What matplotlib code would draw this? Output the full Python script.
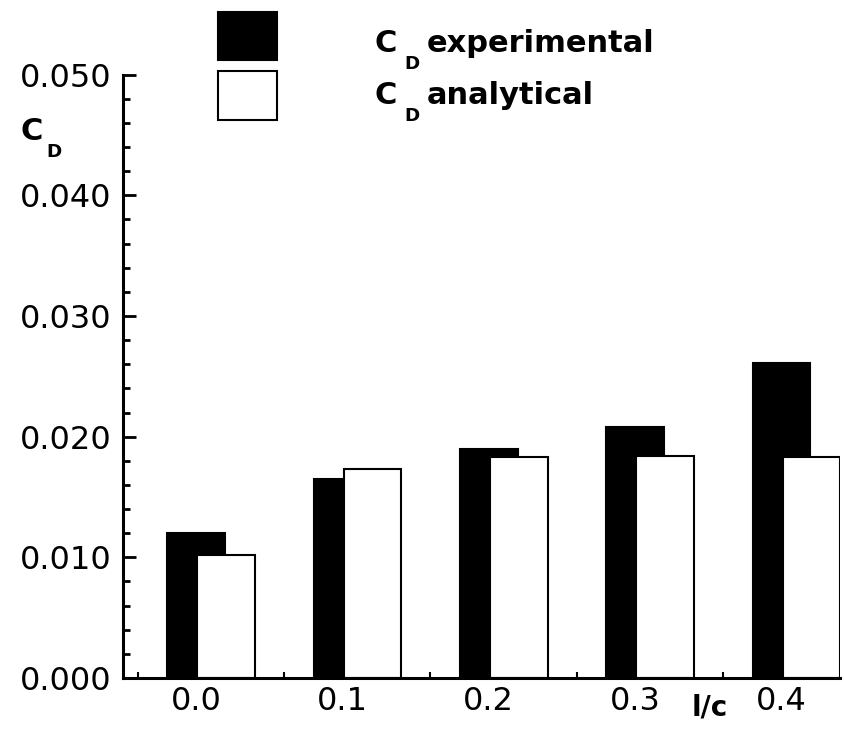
import numpy as np
import matplotlib
matplotlib.use("Agg")
import matplotlib.pyplot as plt
from matplotlib.patches import Rectangle
from matplotlib.ticker import MultipleLocator, FixedLocator

plt.rcParams["font.family"] = ["DejaVu Sans"]

# data
lc_labels = ["0.0", "0.1", "0.2", "0.3", "0.4"]
cd_experimental = [0.0120, 0.0165, 0.0190, 0.0208, 0.0261]
cd_analytical = [0.0102, 0.0173, 0.0183, 0.0184, 0.0183]

x = np.arange(len(lc_labels))
bar_w = 0.395
offset = 0.205

W, H = 844, 732


def cd_label(fig, px, py, rest=None, size=22, d_dx=29, rest_dx=52):
    """C with a dropped subscript D, optionally followed by words (pixel coords, top-left origin)."""
    fig.text(px / W, 1 - py / H, "C", fontsize=size, fontweight="bold", ha="left", va="baseline")
    fig.text((px + d_dx) / W, 1 - (py + 17) / H, "D", fontsize=size * 0.6, fontweight="bold",
             ha="left", va="baseline")
    if rest:
        fig.text((px + rest_dx) / W, 1 - py / H, rest, fontsize=size, fontweight="bold",
                 ha="left", va="baseline")


fig = plt.figure(figsize=(W / 100, H / 100), dpi=100)
ax = fig.add_axes([0.1457, 0.0738, 0.8496, 0.8242])

# black bars first, white ones drawn over them
ax.bar(x, cd_experimental, width=bar_w, color="black", edgecolor="black", linewidth=1.5, zorder=2)
ax.bar(x + offset, cd_analytical, width=bar_w, color="white", edgecolor="black", linewidth=1.5, zorder=3)

ax.set_xlim(-0.5, 4.4)
ax.set_ylim(0, 0.050)

for side in ["top", "right"]:
    ax.spines[side].set_visible(False)
for side in ["left", "bottom"]:
    ax.spines[side].set_linewidth(2.2)
    ax.spines[side].set_zorder(4)

ax.yaxis.set_major_locator(MultipleLocator(0.010))
ax.yaxis.set_minor_locator(MultipleLocator(0.002))
ax.yaxis.set_major_formatter(plt.FormatStrFormatter("%.3f"))
ax.tick_params(axis="y", which="major", direction="in", length=9, width=2, labelsize=23, pad=8)
ax.tick_params(axis="y", which="minor", direction="in", length=5, width=2)

ax.set_xticks(x)
ax.set_xticklabels(lc_labels)
ax.xaxis.set_minor_locator(FixedLocator(x - 0.4))
ax.tick_params(axis="x", which="major", direction="in", length=0, labelsize=23, pad=6)
ax.tick_params(axis="x", which="minor", direction="in", length=4, width=1.5)

# axis titles placed like the original
cd_label(fig, 21, 140, d_dx=25)
fig.text(692 / W, 1 - 716 / H, "l/c", fontsize=20, fontweight="bold", ha="left", va="baseline")

# legend drawn by hand at the top
fig.add_artist(Rectangle((218 / W, 1 - 60 / H), 59 / W, 48 / H,
                         transform=fig.transFigure, facecolor="black", edgecolor="black", linewidth=1.5))
fig.add_artist(Rectangle((218 / W, 1 - 120 / H), 59 / W, 49 / H,
                         transform=fig.transFigure, facecolor="white", edgecolor="black", linewidth=1.5))
cd_label(fig, 375, 52, "experimental")
cd_label(fig, 375, 104, "analytical")

fig.savefig("out.png", dpi=100)
